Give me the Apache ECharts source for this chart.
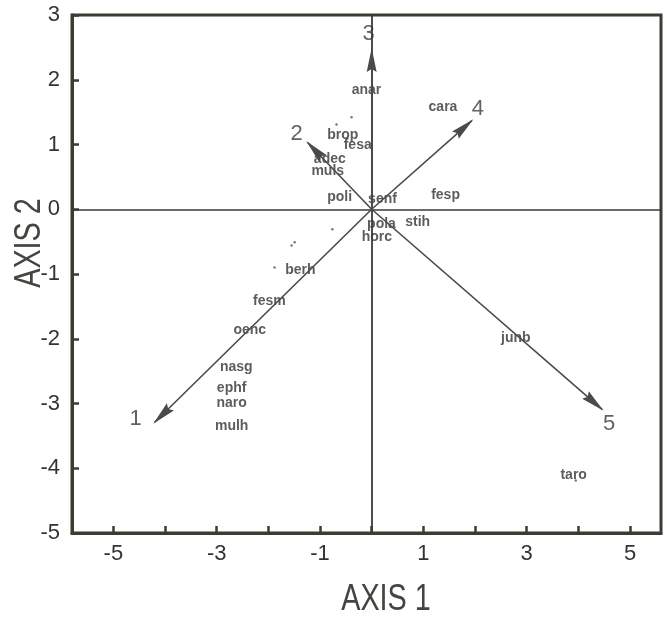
<!DOCTYPE html>
<html>
<head>
<meta charset="utf-8">
<script src="https://cdn.jsdelivr.net/npm/echarts@6/dist/echarts.min.js"></script>
<style>
  html, body { margin: 0; padding: 0; background: #ffffff; }
  #chart { width: 667px; height: 618px; }
</style>
</head>
<body>
<div id="chart"></div>
<script>
// axis ticks
const xTicks = [-5, -4, -3, -2, -1, 0, 1, 2, 3, 4, 5];
const xTickLabels = [-5, -3, -1, 1, 3, 5];

// species scores
const speciesNames = ['anar', 'cara', 'brop', 'fesa', 'adec', 'muls', 'poli', 'senf', 'fesp', 'pola', 'stih',
    'horc', 'berh', 'fesm', 'oenc', 'nasg', 'ephf', 'naro', 'mulh', 'junb', 'taro'];
const speciesX = [-0.1, 1.38, -0.56, -0.27, -0.81, -0.85, -0.62, 0.21, 1.43, 0.19, 0.89,
    0.1, -1.38, -1.98, -2.36, -2.62, -2.71, -2.71, -2.71, 2.79, 3.91];
const speciesY = [1.84, 1.58, 1.14, 0.99, 0.77, 0.59, 0.19, 0.15, 0.22, -0.23, -0.2,
    -0.43, -0.94, -1.42, -1.87, -2.44, -2.76, -3.0, -3.35, -1.99, -4.11];

// unlabelled points
const dotX = [-0.68, -0.39, -0.76, -1.49, -1.55, -1.88, 3.95];
const dotY = [1.31, 1.42, -0.31, -0.51, -0.56, -0.9, -4.19];

// environmental vectors
const vectorNames = ['1', '2', '3', '4', '5'];
const vectorX = [-4.2, -1.24, 0.0, 1.94, 4.46];
const vectorY = [-3.29, 1.03, 2.46, 1.37, -3.09];

// pixel offsets of the vector numbers from the arrow tips
const vectorLabelOffset = [[-19, -3], [-11, -9], [-3, -16], [6, -12], [7, 15]];

const frameColor = '#3c3c32';
const inkColor = '#333';
const sans = "'Liberation Sans', Arial, sans-serif";
const arrowHead = 'path://M5,0 L10,24 L5,21 L0,24 Z';

const chart = echarts.init(document.getElementById('chart'), null, { renderer: 'canvas' });

const speciesData = speciesNames.map((n, i) => [speciesX[i], speciesY[i], n]);
const dotData = dotX.map((x, i) => [x, dotY[i]]);
const arrowData = vectorNames.map((n, i) => [
    { coord: [0, 0], symbol: 'none' },
    { coord: [vectorX[i], vectorY[i]], symbol: arrowHead, symbolSize: [10, 24], symbolOffset: [0, 10] }
]);
const vectorLabelData = vectorNames.map((n, i) => ({
    value: [vectorX[i], vectorY[i], n],
    label: { offset: vectorLabelOffset[i] }
}));

const option = {
    backgroundColor: '#ffffff',
    animation: false,
    grid: {
        left: 72, right: 6, top: 15, bottom: 85,
        show: true,
        borderColor: frameColor,
        borderWidth: 3,
        backgroundColor: 'transparent'
    },
    xAxis: {
        type: 'value',
        min: -5.8,
        max: 5.6,
        axisLine: { show: true, onZero: false, lineStyle: { color: frameColor, width: 3 } },
        axisTick: { show: true, inside: true, length: 7, customValues: xTicks, lineStyle: { color: frameColor, width: 2.5 } },
        axisLabel: { customValues: xTickLabels, margin: 10, color: inkColor, fontSize: 22, fontFamily: sans },
        splitLine: { show: false }
    },
    yAxis: {
        type: 'value',
        min: -5,
        max: 3,
        interval: 1,
        axisLine: { show: true, onZero: false, lineStyle: { color: frameColor, width: 3 } },
        axisTick: { show: true, inside: true, length: 7, lineStyle: { color: frameColor, width: 2.5 } },
        axisLabel: { margin: 12, color: inkColor, fontSize: 22, fontFamily: sans },
        splitLine: { show: false }
    },
    graphic: [
        {
            type: 'text', x: 386, y: 600, scaleX: 0.8,
            style: { text: 'AXIS 1', fill: '#444440', font: '36px ' + sans, align: 'center', verticalAlign: 'middle' }
        },
        {
            type: 'text', x: 30, y: 243, rotation: Math.PI / 2, scaleX: 0.8,
            style: { text: 'AXIS 2', fill: '#444440', font: '36px ' + sans, align: 'center', verticalAlign: 'middle' }
        }
    ],
    series: [
        {
            // zero lines and vectors
            type: 'scatter',
            data: [],
            silent: true,
            markLine: {
                silent: true,
                animation: false,
                label: { show: false },
                data: [
                    [{ coord: [0, -5], symbol: 'none' }, { coord: [0, 3], symbol: 'none', lineStyle: { color: '#3a3a3a', width: 1.8, type: 'solid' } }],
                    [{ coord: [-5.8, 0], symbol: 'none' }, { coord: [5.6, 0], symbol: 'none', lineStyle: { color: '#3a3a3a', width: 1.5, type: 'solid' } }]
                ].concat(arrowData),
                lineStyle: { color: '#4a4a4a', width: 1.6, type: 'solid' },
                itemStyle: { color: '#4a4a4a' }
            }
        },
        {
            type: 'scatter',
            data: dotData,
            symbolSize: 2.5,
            itemStyle: { color: '#555' },
            silent: true
        },
        {
            type: 'scatter',
            data: speciesData,
            symbolSize: 1,
            itemStyle: { color: 'rgba(0,0,0,0)' },
            silent: true,
            label: {
                show: true,
                position: 'inside',
                formatter: p => p.value[2],
                color: '#333',
                fontSize: 14,
                fontWeight: 'bold',
                fontFamily: sans
            }
        },
        {
            type: 'scatter',
            data: vectorLabelData,
            symbolSize: 1,
            itemStyle: { color: 'rgba(0,0,0,0)' },
            silent: true,
            label: {
                show: true,
                position: 'inside',
                formatter: p => p.value[2],
                color: '#3a3a3a',
                fontSize: 22,
                fontFamily: sans
            }
        }
    ]
};

chart.setOption(option);
window.addEventListener('resize', () => chart.resize());
</script>
</body>
</html>
